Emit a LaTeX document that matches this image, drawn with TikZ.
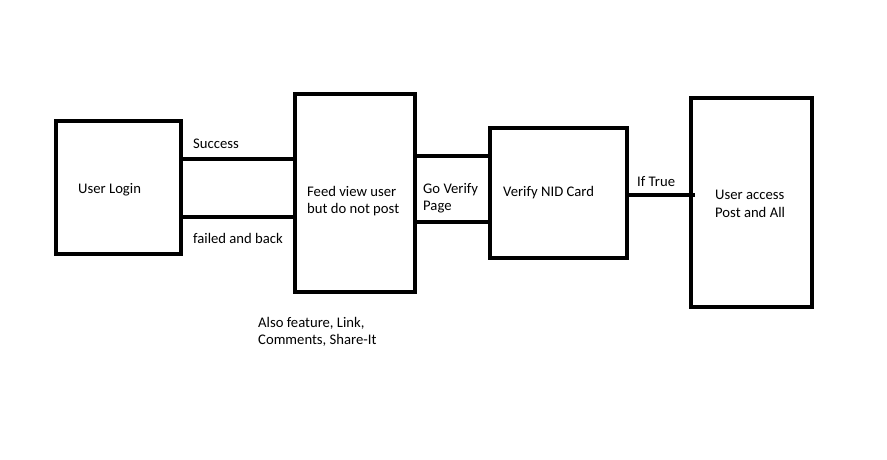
\documentclass[tikz,border=0pt]{standalone}
\usepackage{fontspec}
\setmainfont{Carlito}
\begin{document}
\begin{tikzpicture}[x=1pt,y=-1pt,
  box/.style={draw=black,line width=4pt,minimum width=#1,inner sep=0pt},
  conn/.style={draw=black,line width=4pt},
  lbl/.style={anchor=west,inner sep=0pt,align=left,yshift=-1.5pt,font=\fontsize{14.67}{17.5}\selectfont}]
\useasboundingbox[fill=white] (0,0) rectangle (887,460);
\node[box=125pt,minimum height=133pt] (b1) at (118.5,187.5) {};
\node[box=120pt,minimum height=198pt] (b2) at (355,193) {};
\node[box=137pt,minimum height=130pt] (b3) at (558.5,193) {};
\node[box=121pt,minimum height=209pt] (b4) at (751.5,202.5) {};
\draw[conn] (b1.east |- 0,159) -- (b2.west |- 0,159);
\draw[conn] (b1.east |- 0,217) -- (b2.west |- 0,217);
\draw[conn] (b2.east |- 0,156) -- (b3.west |- 0,156);
\draw[conn] (b2.east |- 0,222) -- (b3.west |- 0,222);
\draw[conn] (b3.east |- 0,195) -- ([xshift=6pt]b4.west |- 0,195);
\node[lbl] (t1) at (78,188) {User Login};
\node[lbl] (t2) at (193,142) {Success};
\node[lbl] (t3) at (193,237) {failed and back};
\node[lbl] (t4) at (307,199.5) {Feed view user\\but do not post};
\node[lbl] (t5) at (423,196.5) {Go Verify\\Page};
\node[lbl] (t6) at (503,191) {Verify NID Card};
\node[lbl] (t7) at (637,180) {If True};
\node[lbl] (t8) at (715,202.5) {User access\\Post and All};
\node[lbl] (t9) at (258,330.5) {Also feature, Link,\\Comments, Share-It};
\end{tikzpicture}
\end{document}
